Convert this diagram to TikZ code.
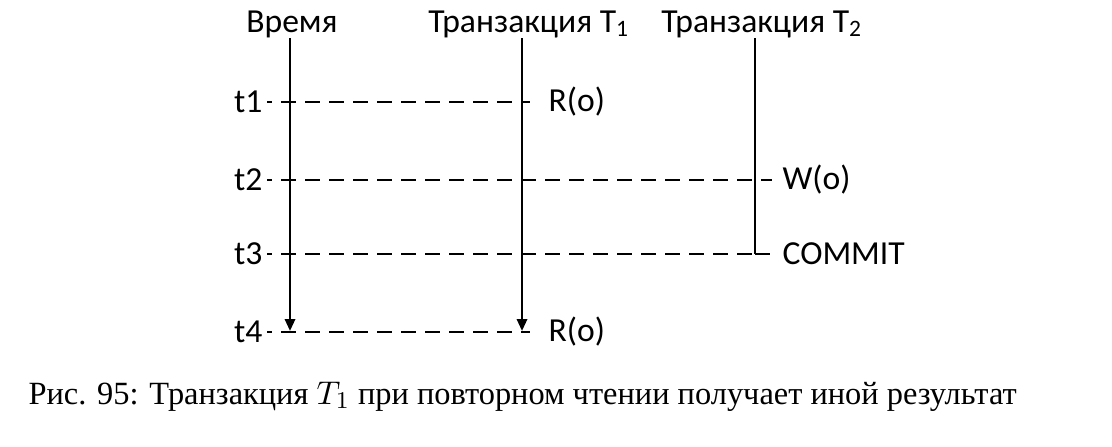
\documentclass[tikz,border=0pt]{standalone}
\usepackage{fontspec}
\setmainfont{Liberation Serif}
\newfontfamily\diagfont{Carlito}
\usetikzlibrary{positioning,arrows.meta}

\begin{document}
\begin{tikzpicture}[x=0.3333pt,y=-0.3333pt,
    lbl/.style={font=\diagfont\fontsize{11.2}{13}\selectfont, inner sep=0pt},
    axis/.style={line width=0.85pt},
    guide/.style={line width=0.8pt, dash pattern=on 5pt off 3pt, dash phase=3.33pt},
    tip/.style={-{Triangle[length=4pt,width=3.4pt]}}]
  \useasboundingbox (0,0) rectangle (1112,446);

  % Заголовки
  \node[lbl, anchor=base] (hTime) at (292,32) {Время};
  \node[lbl, anchor=base] (hT1) at (529,32) {Транзакция T\textsubscript{1}};
  \node[lbl, anchor=base] (hT2) at (762,32) {Транзакция T\textsubscript{2}};

  % Оси времени и транзакций
  \coordinate (topTime) at (290,38);
  \coordinate (botTime) at (290,331);
  \coordinate (topT1) at (522,38);
  \coordinate (botT1) at (522,331);
  \coordinate (topT2) at (755,38);
  \coordinate (botT2) at (755,254);
  \draw[axis, tip] (topTime) -- (botTime);
  \draw[axis, tip] (topT1) -- (botT1);
  \draw[axis] (topT2) -- (botT2);

  % Моменты времени
  \coordinate (a1) at (267,102);
  \coordinate (a2) at (267,180);
  \coordinate (a3) at (267,254);
  \coordinate (a4) at (267,332);
  \node[lbl, left=1.3pt of a1] (t1) {t1};
  \node[lbl, left=1.3pt of a2] (t2) {t2};
  \node[lbl, left=1.3pt of a3] (t3) {t3};
  \node[lbl, left=1.3pt of a4] (t4) {t4};

  % t1: T1 читает o
  \coordinate (e1) at (530,102);
  \draw[guide] (a1) -- (e1);
  \node[lbl, right=6pt of e1] (r1) {R(o)};

  % t2: T2 пишет o
  \coordinate (e2) at (772,180);
  \draw[guide] (a2) -- (e2);
  \node[lbl, right=3.3pt of e2] (w2) {W(o)};

  % t3: T2 фиксируется
  \coordinate (e3) at (770,254);
  \draw[guide] (a3) -- (botT2);
  \draw[axis] (botT2) -- (e3);
  \node[lbl, right=4pt of e3] (c3) {COMMIT};

  % t4: повторное чтение
  \coordinate (e4) at (530,332);
  \draw[guide] (a4) -- (e4);
  \node[lbl, right=6pt of e4] (r4) {R(o)};

  % Подпись
  \node[anchor=base west, inner sep=0pt, font=\fontsize{10.8}{13}\selectfont] (cap) at (28,404)
    {Рис. 95: Транзакция $T_1$ при повторном чтении получает иной результат};
\end{tikzpicture}
\end{document}
